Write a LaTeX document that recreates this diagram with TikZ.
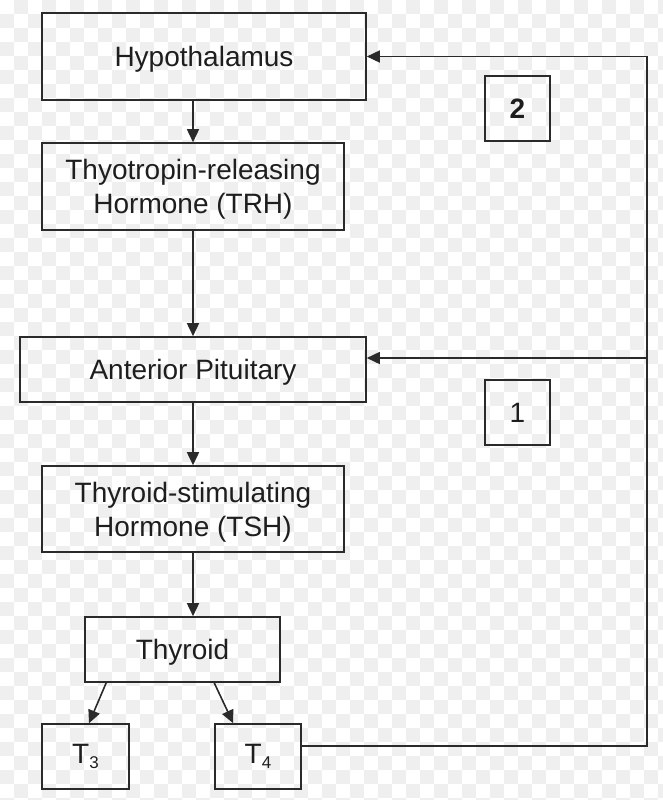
\documentclass[tikz,border=0pt]{standalone}
\usepackage{fontspec}
\setmainfont{Liberation Sans}
\usetikzlibrary{arrows.meta,calc}
\definecolor{ln}{HTML}{2A2A2A}
\definecolor{txt}{HTML}{1E1E1E}
\definecolor{sq}{HTML}{EFEFEF}
\tikzset{
  box/.style={draw=ln, line width=1.6pt, fill=none, inner sep=0pt, align=center,
    text=txt, font=\fontsize{28}{34}\selectfont},
  numbox/.style={box, minimum width=65pt, minimum height=65pt},
  conn/.style={draw=ln, line width=1.6pt},
  arr/.style={conn, -{Triangle[length=13pt,width=12pt]}},
}
\newcommand{\subnum}[1]{\raisebox{-5pt}{\fontsize{17}{17}\selectfont #1}}
\newcommand{\dnline}[1]{\raisebox{-3pt}[\height][\depth]{#1}}
\begin{document}
\begin{tikzpicture}[x=1pt,y=-1pt]
\useasboundingbox (0,0) rectangle (663,800);
\fill[white] (0,0) rectangle (663,800);
% transparency checkerboard background
\foreach \i in {0,...,47}{
  \foreach \j in {0,...,57}{
    \pgfmathtruncatemacro\p{mod(\i+\j,2)}
    \ifnum\p=1 \fill[sq] (\i*14,\j*14) rectangle ++(14,14);\fi
  }
}
% boxes
\node[box, minimum width=324pt, minimum height=87pt] (hyp) at (204,56.5) {\dnline{Hypothalamus}};
\node[box, minimum width=302pt, minimum height=87pt] (trh) at (193,186.5) {\dnline{Thyotropin-releasing}\\\dnline{Hormone (TRH)}};
\node[box, minimum width=346pt, minimum height=65pt] (ap) at (193,369.5) {\dnline{Anterior Pituitary}};
\node[box, minimum width=302pt, minimum height=86pt] (tsh) at (193,509) {\dnline{Thyroid-stimulating}\\\dnline{Hormone (TSH)}};
\node[box, minimum width=195pt, minimum height=65pt] (thy) at (182.5,649.5) {\dnline{Thyroid}};
\node[box, minimum width=87pt, minimum height=65pt] (t3) at (85.5,756.5) {T\subnum{3}};
\node[box, minimum width=86pt, minimum height=65pt] (t4) at (258,756.5) {T\subnum{4}};
\node[numbox] (b2) at (517.5,108.5) {\textbf{2}};
\node[numbox] (b1) at (517.5,412.5) {1};
% down arrows
\draw[arr] (hyp.south -| trh.north) -- (trh.north);
\draw[arr] (trh.south) -- (ap.north);
\draw[arr] (ap.south) -- (tsh.north);
\draw[arr] (tsh.south) -- (tsh.south |- thy.north);
\draw[arr] ($(thy.south west)+(22,0)$) -- ($(t3.north)+(3.5,0)$);
\draw[arr] ($(thy.south west)+(130,0)$) -- ($(t4.north west)+(19,0)$);
% feedback loop
\coordinate (rb) at (647,746);
\coordinate (rt) at (647,56.5);
\coordinate (rm) at (647,358);
\draw[conn] (t4.east |- rb) -- (rb) -- (rt);
\draw[arr] (rt) -- (hyp.east);
\draw[arr] (rm) -- (rm -| ap.east);
\end{tikzpicture}
\end{document}
